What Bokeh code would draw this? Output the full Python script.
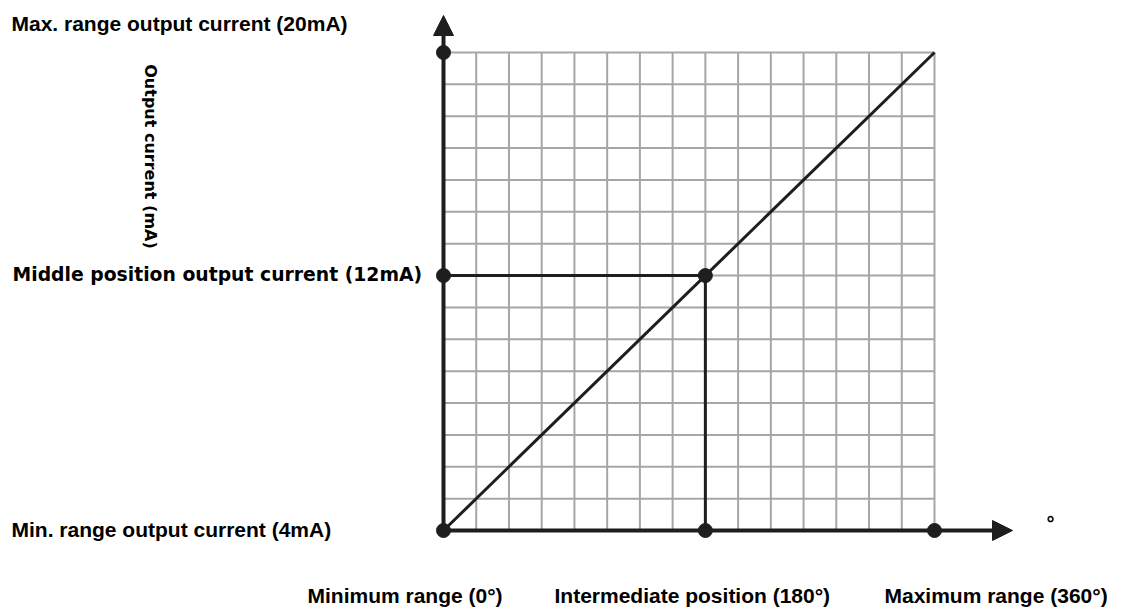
from bokeh.plotting import figure
from bokeh.models import Range1d, Arrow, NormalHead
from bokeh.core.properties import value
from bokeh.embed import file_html
from bokeh.resources import INLINE

# ---- data (in grid-cell units) ----
grid_cols = 15
grid_rows = 15
angle_labels = ["Minimum range (0°)", "Intermediate position (180°)", "Maximum range (360°)"]
angle_pos = [0, 8, 15]
current_labels = ["Min. range output current (4mA)",
                  "Middle position output current  (12mA)",
                  "Max. range output current (20mA)"]
current_pos = [0, 8, 15]
y_title = "Output current (mA)"
x_unit = "°"

# ---- layout ----
W, H = 1126, 610
px_x = 32.733   # pixels per grid column
px_y = 31.867   # pixels per grid row
ox, oy = 443, 530   # canvas pixel of origin

def dx(px):
    return (px - ox) / px_x

def dy(py):
    return (oy - py) / px_y

p = figure(width=W, height=H, output_backend="svg", toolbar_location=None,
           x_range=Range1d(dx(0), dx(W)), y_range=Range1d(dy(H), dy(0)),
           min_border=0, x_axis_type=None, y_axis_type=None)
p.grid.visible = False
p.outline_line_color = None
p.background_fill_color = "white"
p.border_fill_color = "white"

# grid
xs = list(range(0, grid_cols + 1))
ys = list(range(0, grid_rows + 1))
p.segment(x0=xs, y0=[0] * len(xs), x1=xs, y1=[grid_rows] * len(xs),
          line_color="#a6a6a6", line_width=2)
p.segment(x0=[0] * len(ys), y0=ys, x1=[grid_cols] * len(ys), y1=ys,
          line_color="#a6a6a6", line_width=2)

dark = "#1e1e1e"
# axes with arrows
p.add_layout(Arrow(end=NormalHead(size=20, fill_color=dark, line_color=dark, line_width=1),
                   x_start=0, y_start=0, x_end=0, y_end=dy(15),
                   line_color=dark, line_width=4))
p.add_layout(Arrow(end=NormalHead(size=20, fill_color=dark, line_color=dark, line_width=1),
                   x_start=0, y_start=0, x_end=dx(1012), y_end=0,
                   line_color=dark, line_width=4))

# diagonal
p.line([angle_pos[0], angle_pos[-1]], [current_pos[0], current_pos[-1]],
       line_color=dark, line_width=3)
# middle guide lines
p.line([0, angle_pos[1], angle_pos[1]], [current_pos[1], current_pos[1], 0],
       line_color=dark, line_width=3)

# dots
dot_x = [0, 0, 0, angle_pos[1], angle_pos[2], angle_pos[1]]
dot_y = [current_pos[0], current_pos[1], current_pos[2], 0, 0, current_pos[1]]
p.scatter(dot_x, dot_y, size=14, fill_color=dark, line_color=dark)

# left labels (current)
p.text(x=[dx(11), dx(11)], y=[dy(529), dy(23)],
       text=[current_labels[0], current_labels[2]],
       text_font=value("Liberation Sans"), text_font_style="bold",
       text_font_size="21px", text_align="left", text_baseline="alphabetic",
       text_color="black")
p.text(x=[dx(12)], y=[dy(274)], text=[current_labels[1]],
       text_font=value("DejaVu Sans"), text_font_style="bold",
       text_font_size="18.8px", text_align="left", text_baseline="alphabetic",
       text_color="black")

# bottom labels (angle)
bx = [307, 554, 884]
p.text(x=[dx(b) for b in bx], y=[dy(595)] * 3, text=angle_labels,
       text_font=value("Liberation Sans"), text_font_style="bold",
       text_font_size="21px", text_align="left", text_baseline="alphabetic",
       text_color="black")

# y title (rotated)
p.text(x=[dx(150)], y=[dy(156)], text=[y_title], angle=-1.5708,
       text_font=value("DejaVu Sans"), text_font_style="bold",
       text_font_size="16px", text_align="center", text_baseline="middle",
       text_color="black")

# unit symbol on x axis
p.text(x=[dx(1050)], y=[dy(522)], text=[x_unit],
       text_font=value("Liberation Sans"), text_font_style="bold",
       text_font_size="20px", text_align="center", text_baseline="alphabetic",
       text_color="black")

open("out.html", "w").write(file_html(p, INLINE))
